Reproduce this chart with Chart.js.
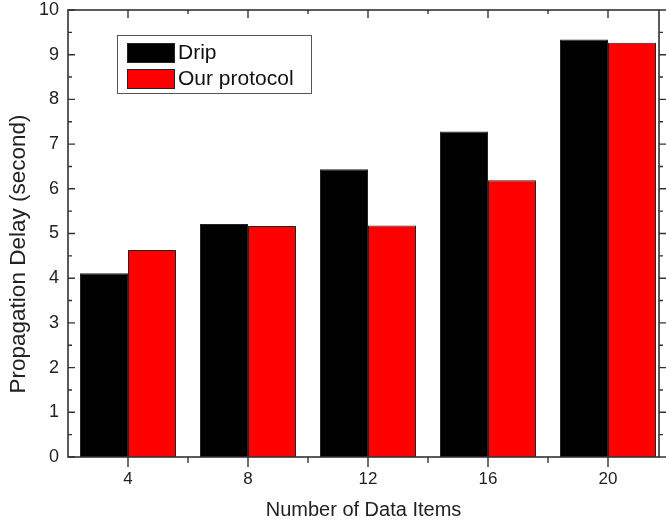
<!DOCTYPE html>
<html>
<head>
<meta charset="utf-8">
<script src="https://cdn.jsdelivr.net/npm/chart.js@4/dist/chart.umd.min.js"></script>
<style>
  html, body { margin: 0; padding: 0; background: #fff; }
  #wrap { width: 666px; height: 525px; }
</style>
</head>
<body>
<div id="wrap"><canvas id="c" width="666" height="525"></canvas></div>
<script>
// ---- data ----
const categories = [4, 8, 12, 16, 20];
const dripValues = [4.11, 5.21, 6.44, 7.28, 9.34];
const ourValues = [4.63, 5.17, 5.18, 6.19, 9.27];
const seriesNames = ['Drip', 'Our protocol'];
const yTicks = [0, 1, 2, 3, 4, 5, 6, 7, 8, 9, 10];
const xTitle = 'Number of Data Items';
const yTitle = 'Propagation Delay (second)';

const FONT = '"Liberation Sans", Arial, sans-serif';
const AXIS_COLOR = '#333333';

const framePlugin = {
  id: 'frame',
  afterDraw(chart) {
    const ctx = chart.ctx;
    const a = chart.chartArea;
    const xs = chart.scales.x, ys = chart.scales.y;
    ctx.save();
    ctx.strokeStyle = AXIS_COLOR;
    ctx.lineWidth = 1.6;
    ctx.strokeRect(a.left, a.top, a.right - a.left, a.bottom - a.top);
    ctx.lineWidth = 1.4;
    ctx.beginPath();
    // y ticks
    for (let i = 0; i < yTicks.length; i++) {
      const v = yTicks[i];
      const p = ys.getPixelForValue(v);
      ctx.moveTo(a.left, p); ctx.lineTo(a.left + 7, p);
      ctx.moveTo(a.right, p); ctx.lineTo(a.right + 7, p);
      if (i < yTicks.length - 1) {
        const m = ys.getPixelForValue((v + yTicks[i + 1]) / 2);
        ctx.moveTo(a.left, m); ctx.lineTo(a.left + 4, m);
        ctx.moveTo(a.right, m); ctx.lineTo(a.right + 4, m);
      }
    }
    // x ticks
    for (let i = 0; i < categories.length; i++) {
      const p = xs.getPixelForValue(categories[i]);
      ctx.moveTo(p, a.bottom); ctx.lineTo(p, a.bottom + 10);
      ctx.moveTo(p, a.top); ctx.lineTo(p, a.top + 8);
      if (i < categories.length - 1) {
        const m = xs.getPixelForValue((categories[i] + categories[i + 1]) / 2);
        ctx.moveTo(m, a.bottom); ctx.lineTo(m, a.bottom + 6);
        ctx.moveTo(m, a.top); ctx.lineTo(m, a.top + 4);
      }
    }
    ctx.stroke();

    // axis titles
    ctx.fillStyle = '#222';
    ctx.font = '20px ' + FONT;
    ctx.textAlign = 'center';
    ctx.textBaseline = 'middle';
    ctx.fillText(xTitle, (a.left + a.right) / 2, 510);
    ctx.save();
    ctx.translate(19, 254);
    ctx.rotate(-Math.PI / 2);
    ctx.font = '22.5px ' + FONT;
    ctx.fillText(yTitle, 0, 0);
    ctx.restore();

    // legend
    const lx = 117, ly = 35, lw = 194, lh = 58;
    ctx.fillStyle = '#fff';
    ctx.fillRect(lx, ly, lw, lh);
    ctx.strokeStyle = '#555';
    ctx.lineWidth = 1;
    ctx.strokeRect(lx + 0.5, ly + 0.5, lw, lh);
    ctx.font = '21px ' + FONT;
    ctx.textAlign = 'left';
    ctx.textBaseline = 'alphabetic';
    chart.data.datasets.forEach((ds, i) => {
      const sy = 43 + i * 26;
      ctx.fillStyle = ds.backgroundColor;
      ctx.fillRect(127, sy, 47, 19);
      ctx.strokeStyle = '#222';
      ctx.strokeRect(127.5, sy + 0.5, 47, 19);
      ctx.fillStyle = '#111';
      ctx.fillText(ds.label, 178, sy + 16);
    });
    ctx.restore();
  }
};

const toPoints = vals => categories.map((c, i) => ({ x: c, y: vals[i] }));

new Chart(document.getElementById('c'), {
  type: 'bar',
  data: {
    datasets: [
      { label: seriesNames[0], data: toPoints(dripValues), backgroundColor: '#000000', borderColor: '#222222', borderWidth: 1 },
      { label: seriesNames[1], data: toPoints(ourValues), backgroundColor: '#ff0000', borderColor: '#222222', borderWidth: 1 }
    ]
  },
  options: {
    responsive: false,
    animation: false,
    devicePixelRatio: 1,
    layout: { padding: { left: 0, right: 7, top: 10, bottom: 0 } },
    datasets: { bar: { categoryPercentage: 0.8, barPercentage: 1.0 } },
    plugins: { legend: { display: false }, tooltip: { enabled: false } },
    scales: {
      x: {
        type: 'linear',
        min: 2,
        max: 21.7,
        offset: false,
        grid: { display: false, drawTicks: false },
        border: { display: false },
        afterBuildTicks: s => { s.ticks = categories.map(v => ({ value: v })); },
        afterFit: s => { s.height = 68; s.paddingLeft = 0; s.paddingRight = 0; },
        ticks: { color: '#222', font: { family: FONT, size: 17 }, padding: 12, autoSkip: false, maxRotation: 0,
                 callback: v => String(v) }
      },
      y: {
        min: 0,
        max: 10,
        grid: { display: false, drawTicks: false },
        border: { display: false },
        afterBuildTicks: s => { s.ticks = yTicks.map(v => ({ value: v })); },
        afterFit: s => { s.width = 68; s.paddingTop = 0; s.paddingBottom = 0; },
        ticks: { color: '#222', font: { family: FONT, size: 18 }, padding: 9, callback: v => String(v) }
      }
    }
  },
  plugins: [framePlugin]
});
</script>
</body>
</html>
